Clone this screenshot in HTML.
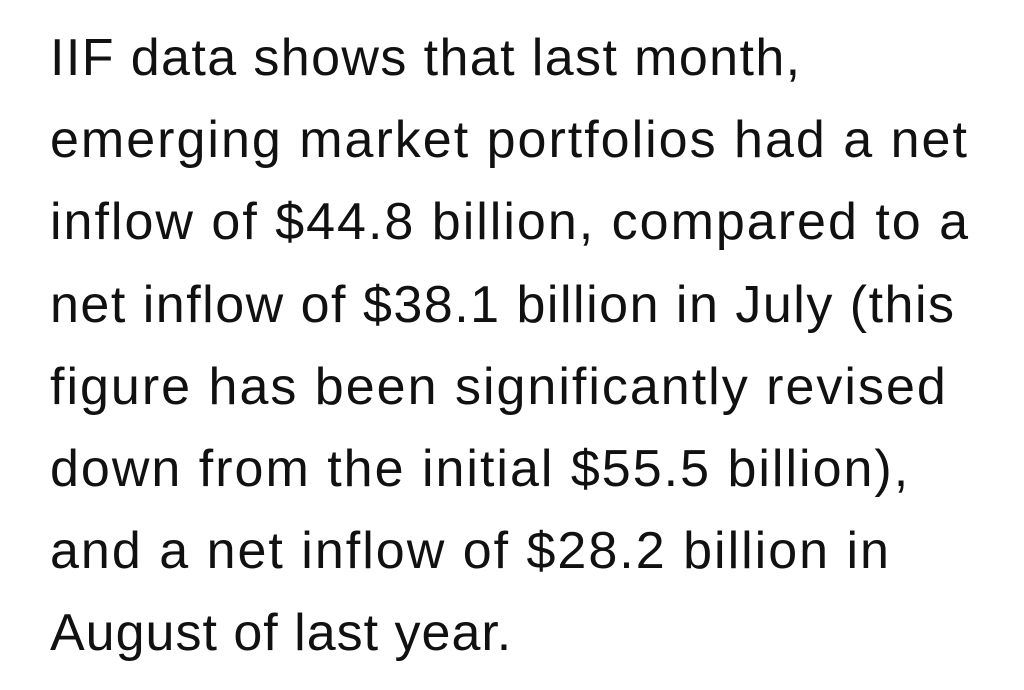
<!DOCTYPE html>
<html><head><meta charset="utf-8"><style>
html,body{margin:0;padding:0;background:#fff;}
body{width:1024px;height:690px;overflow:hidden;position:relative;}
.t{position:absolute;left:50px;top:17px;font-family:"Liberation Sans","Noto Sans CJK SC",sans-serif;font-size:52px;line-height:82.2px;letter-spacing:2px;color:#111;white-space:nowrap;}
</style></head><body>
<div class="t"><span style="letter-spacing:1.4px">IIF data shows that last month,</span><br>emerging market portfolios had a net<br>inflow of $44.8 billion, compared to a<br><span style="letter-spacing:1.5px">net inflow of $38.1 billion in July (this</span><br>figure has been significantly revised<br>down from the initial $55.5 billion),<br>and a net inflow of $28.2 billion in<br><span style="letter-spacing:1px">August of last year.</span></div>
</body></html>
